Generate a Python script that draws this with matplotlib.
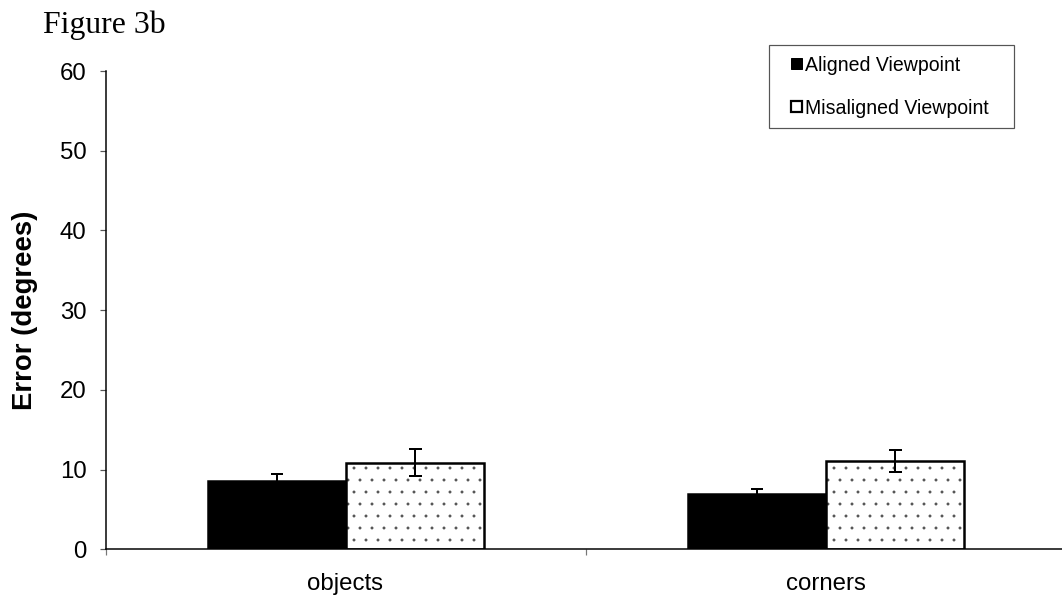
import matplotlib
matplotlib.use("Agg")
import matplotlib.pyplot as plt
import numpy as np
from matplotlib.patches import Patch, Rectangle
from matplotlib.legend_handler import HandlerPatch

categories = ["objects", "corners"]
series_names = ["Aligned Viewpoint", "Misaligned Viewpoint"]
aligned = [8.6, 6.95]
aligned_err = [0.85, 0.6]
misaligned = [10.85, 11.05]
misaligned_err = [1.7, 1.35]
y_ticks = [0, 10, 20, 30, 40, 50, 60]

plt.rcParams['font.family'] = ['Liberation Sans', 'DejaVu Sans']
plt.rcParams['hatch.linewidth'] = 0.4

DPI = 72
fig = plt.figure(figsize=(1062 / DPI, 598 / DPI), dpi=DPI)
W, H = 1062, 598
ax = fig.add_axes([105.5 / W, (H - 549.3) / H, 960 / W, (549.3 - 71) / H])

x = np.arange(len(categories))
bw = 0.2875

# aligned bars
ax.bar(x - bw / 2, aligned, width=bw, color='black', edgecolor='black', linewidth=1.5, zorder=2)
# misaligned bars: dotted fill then outline
ax.bar(x + bw / 2, misaligned, width=bw, color='white', edgecolor='#505050', hatch='.', linewidth=0, zorder=2)
ax.bar(x + bw / 2, misaligned, width=bw, fill=False, edgecolor='black', linewidth=2.5, zorder=3)

ax.errorbar(x - bw / 2, aligned, yerr=aligned_err, fmt='none', ecolor='black',
            elinewidth=2, capsize=6, capthick=2, zorder=4)
ax.errorbar(x + bw / 2, misaligned, yerr=misaligned_err, fmt='none', ecolor='black',
            elinewidth=2, capsize=6.5, capthick=2, zorder=4)

ax.set_xlim(-0.5, len(categories) - 0.5)
ax.set_ylim(0, 60)
ax.set_yticks(y_ticks)
ax.set_yticklabels([str(t) for t in y_ticks], fontsize=24)
ax.tick_params(axis='y', direction='out', length=6, width=1.2, color='#555555', pad=13)

ax.set_xticks(np.arange(len(categories) + 1) - 0.5)
ax.set_xticklabels([])
ax.tick_params(axis='x', which='major', direction='out', length=6, width=1.2, color='#777777')
ax.set_xticks(x, minor=True)
ax.set_xticklabels(categories, minor=True, fontsize=24)
ax.tick_params(axis='x', which='minor', length=0, pad=24)

for s in ['top', 'right']:
    ax.spines[s].set_visible(False)
ax.spines['left'].set_linewidth(1.5)
ax.spines['bottom'].set_linewidth(1.5)

ax.set_ylabel("Error (degrees)", fontsize=27.5, fontweight='bold', va='center')
ax.yaxis.set_label_coords(-80 / 960, 0.5)

fig.text(43 / W, 1 - 33 / H, "Figure 3b", family=['Liberation Serif', 'DejaVu Serif'],
         fontsize=31.8, va='baseline', ha='left')


def small_square(legend, orig_handle, xdescent, ydescent, width, height, fontsize):
    s = 11
    return Rectangle((-xdescent + width - s, -ydescent + height / 2 - s / 2), s, s)


handles = [Patch(facecolor='black', edgecolor='black', linewidth=1),
           Patch(facecolor='white', edgecolor='black', linewidth=2.2)]
leg = fig.legend(handles, series_names, loc='upper left',
                 bbox_to_anchor=(769 / W, 1 - 45 / H, 245 / W, 0), mode='expand',
                 borderaxespad=0, fontsize=19.5, frameon=True, fancybox=False,
                 edgecolor='#555555', framealpha=1, borderpad=0.55,
                 handlelength=1.14, handleheight=0.6, handletextpad=0.15,
                 labelspacing=1.23,
                 handler_map={Patch: HandlerPatch(patch_func=small_square)})
leg.get_frame().set_linewidth(1.2)

fig.savefig("out.png", dpi=DPI)
